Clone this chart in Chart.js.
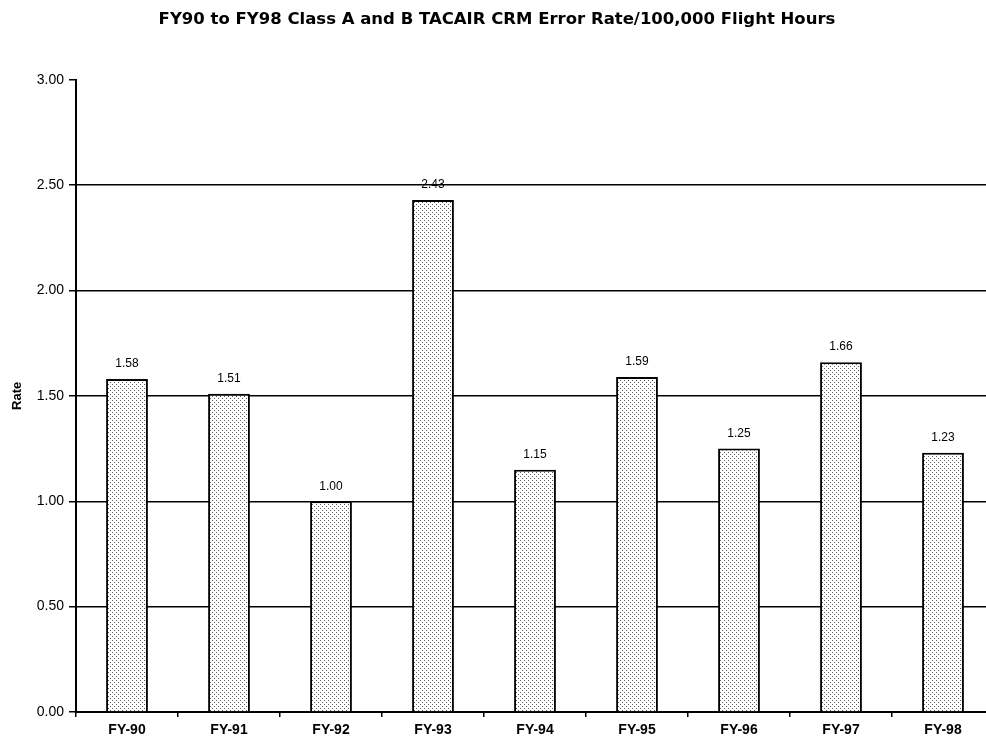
<!DOCTYPE html>
<html>
<head>
<meta charset="utf-8">
<script src="https://cdn.jsdelivr.net/npm/chart.js@4/dist/chart.umd.min.js"></script>
<style>
    html, body { margin: 0; padding: 0; background: #fff; overflow: hidden; }
    #wrap { width: 994px; height: 743px; }
</style>
</head>
<body>
<div id="wrap"><canvas id="rateChart"></canvas></div>
<script>
// Chart data.
var years = ["FY-90", "FY-91", "FY-92", "FY-93", "FY-94", "FY-95", "FY-96", "FY-97", "FY-98"];
var rates = [1.58, 1.51, 1.00, 2.43, 1.15, 1.59, 1.25, 1.66, 1.23];
var yTicks = [0, 0.5, 1.0, 1.5, 2.0, 2.5, 3.0];

var fontName = "'Liberation Sans', Arial, sans-serif";

// Dotted fill like the old printout.
function dotPattern() {
    var c = document.createElement("canvas");
    c.width = 4;
    c.height = 4;
    var g = c.getContext("2d");
    g.fillStyle = "#ffffff";
    g.fillRect(0, 0, 4, 4);
    g.fillStyle = "#5a5a5a";
    g.fillRect(0, 0, 1, 1);
    g.fillRect(2, 2, 1, 1);
    return g.createPattern(c, "repeat");
}

// Value above each bar.
var valueLabels = {
    id: "valueLabels",
    afterDatasetsDraw: function(chart) {
        var ctx = chart.ctx;
        var meta = chart.getDatasetMeta(0);
        ctx.save();
        ctx.fillStyle = "#000";
        ctx.font = "12px " + fontName;
        ctx.textAlign = "center";
        ctx.textBaseline = "middle";
        meta.data.forEach(function(bar, i) {
            ctx.fillText(rates[i].toFixed(2), bar.x, bar.y - 15);
        });
        ctx.restore();
    }
};

var context = document.getElementById("rateChart").getContext("2d");
var rateChart = new Chart(context, {
    type: "bar",
    data: {
        labels: years,
        datasets: [{
            data: rates,
            backgroundColor: dotPattern(),
            borderColor: "#000",
            borderWidth: 2,
            borderSkipped: "bottom",
            barPercentage: 0.41,
            categoryPercentage: 1.0
        }]
    },
    options: {
        responsive: true,
        maintainAspectRatio: false,
        animation: false,
        layout: { padding: { left: 0, right: 0, top: 0, bottom: 0 } },
        plugins: {
            legend: { display: false },
            tooltip: { enabled: false },
            title: {
                display: true,
                text: "FY90 to FY98 Class A and B TACAIR CRM Error Rate/100,000 Flight Hours",
                color: "#000",
                font: { family: "'DejaVu Sans', sans-serif", size: 16.5, weight: "bold" },
                padding: { top: 10, bottom: 50 }
            }
        },
        scales: {
            x: {
                offset: true,
                grid: {
                    offset: true,
                    drawOnChartArea: false,
                    tickLength: 5,
                    color: "#000",
                    lineWidth: 1.5
                },
                border: { color: "#000", width: 2 },
                ticks: {
                    color: "#000",
                    font: { family: fontName, size: 14, weight: "bold" },
                    padding: 5
                },
                afterFit: function(scale) { scale.height = 31; }
            },
            y: {
                min: 0,
                max: 3,
                afterBuildTicks: function(scale) {
                    scale.ticks = yTicks.map(function(v) { return { value: v }; });
                },
                grid: {
                    color: function(c) {
                        return c.tick && c.tick.value === 3 ? "rgba(0,0,0,0)" : "#000";
                    },
                    tickColor: "#000",
                    lineWidth: 1.5,
                    tickLength: 7
                },
                border: { color: "#000", width: 2 },
                ticks: {
                    color: "#000",
                    font: { family: fontName, size: 14 },
                    padding: 5,
                    callback: function(v) { return Number(v).toFixed(2); }
                },
                title: {
                    display: true,
                    text: "Rate",
                    color: "#000",
                    font: { family: fontName, size: 13, weight: "bold" },
                    padding: { top: 10, bottom: 0 }
                },
                afterFit: function(scale) { scale.width = 76; }
            }
        }
    },
    plugins: [valueLabels]
});
</script>
</body>
</html>
